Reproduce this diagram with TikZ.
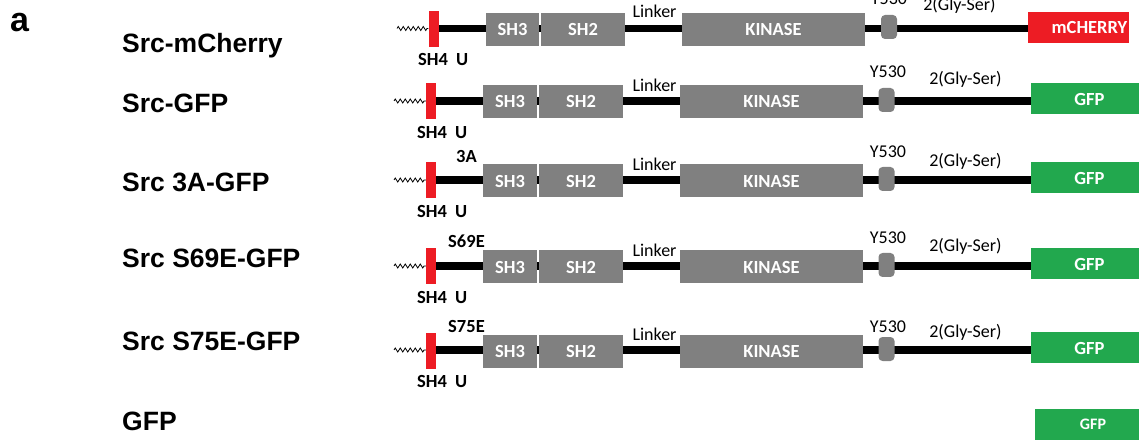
\documentclass[tikz,border=0pt]{standalone}
\usepackage{fontspec}
\setmainfont{Carlito}
\newfontfamily\arialf{Liberation Sans}
\usetikzlibrary{decorations.pathmorphing}
\pgfdeclarelayer{bg}
\pgfsetlayers{bg,main}
\definecolor{srcred}{RGB}{237,28,36}
\definecolor{boxgray}{RGB}{128,128,128}
\definecolor{gfpgreen}{RGB}{34,168,78}
\tikzset{
  seg/.style={fill=boxgray, draw=none, inner sep=0pt, minimum height=33pt, text=white,
    font=\bfseries\fontsize{18.5}{20}\selectfont},
  sh4bar/.style={fill=srcred, inner sep=0pt, minimum width=10pt, minimum height=36pt},
  pY/.style={fill=boxgray, rounded corners=4pt, inner sep=0pt, minimum width=16pt, minimum height=24pt},
  fpbox/.style={inner sep=0pt, minimum height=31pt},
  fplbl/.style={text=white, inner sep=0pt, font=\bfseries\fontsize{18.5}{20}\selectfont},
  backbone/.style={line width=7.5pt},
  tether/.style={line width=0.8pt, decorate, decoration={zigzag, segment length=5pt, amplitude=2pt}},
  note/.style={font=\fontsize{18}{20}\selectfont, anchor=base, inner sep=0pt},
  bnote/.style={font=\bfseries\fontsize{18.5}{20}\selectfont, anchor=base, inner sep=0pt},
  cname/.style={font=\arialf\bfseries\fontsize{26.5}{30}\selectfont, anchor=base west, inner sep=0pt},
}
\begin{document}
\begin{tikzpicture}[x=1pt, y=-1pt]
\useasboundingbox (0,0) rectangle (1139,443);

% panel letter
\node[font=\arialf\bfseries\fontsize{34}{36}\selectfont, anchor=base west, inner sep=0pt] (panel) at (10,32) {a};

% construct names
\node[cname] (n1) at (122,53) {Src-mCherry};
\node[cname] (n2) at (122,113) {Src-GFP};
\node[cname] (n3) at (122,192) {Src 3A-GFP};
\node[cname] (n4) at (122,268) {Src S69E-GFP};
\node[cname] (n5) at (122,350) {Src S75E-GFP};
\node[cname] (n6) at (122,430) {GFP};

% ---- row a : Src-mCherry
\coordinate (La) at (0,28.5);
\coordinate (ta) at (397,28.5);
\node[sh4bar] (reda) at (433.5,29) {};
\node[seg, minimum width=53pt] (sh3a) at (512.5,29.5) {SH3};
\node[seg, minimum width=84pt] (sh2a) at (583,29.5) {SH2};
\node[seg, minimum width=183pt] (kina) at (773.5,30) {KINASE};
\node[pY] (ya) at (889,27) {};
\node[fpbox, fill=srcred, minimum width=101pt] (fpa) at (1078.5,27.5) {};
\node[fplbl] (fpla) at (1089.5,28) {mCHERRY};
\node[note] (lka) at (654.5,18) {Linker};
\node[note] (ytxa) at (889,5) {Y530};
\node[note] (gsa) at (959.5,10.5) {2(Gly-Ser)};
\node[bnote, anchor=base west] (sa) at (418,66) {SH4\hspace{8pt}U};
\begin{pgfonlayer}{bg}
  \draw[backbone] (reda.center |- La) -- (fpa.west |- La);
  \draw[tether] (ta) -- (reda.west |- ta);
\end{pgfonlayer}

% ---- rows b-e : GFP fusions
\foreach \n/\L/\ya/\gs in {b/101/23/16, c/180/22/13, d/266/22/14, e/350/18/13}{
  \coordinate (L\n) at (0,\L);
  \coordinate (t\n) at (394,\L);
  \node[sh4bar] (red\n) at (431,\L+0.5) {};
  \node[seg, minimum width=54pt] (sh3\n) at (510,\L+1) {SH3};
  \node[seg, minimum width=84pt] (sh2\n) at (581,\L+1) {SH2};
  \node[seg, minimum width=183pt] (kin\n) at (771.5,\L+1) {KINASE};
  \node[pY] (y\n) at (886.5,\L-1) {};
  \node[fpbox, fill=gfpgreen, minimum width=108pt] (fp\n) at (1085,\L-2.5) {};
  \node[fplbl] (fpl\n) at (1089.5,\L-1.5) {GFP};
  \node[note] (lk\n) at (654.5,\L-9.5) {Linker};
  \node[note] (ytx\n) at (888,\L-\ya) {Y530};
  \node[note] (gs\n) at (965.5,\L-\gs) {2(Gly-Ser)};
  \node[bnote, anchor=base west] (s\n) at (417,\L+37.5) {SH4\hspace{8pt}U};
  \begin{pgfonlayer}{bg}
    \draw[backbone] (red\n.center |- L\n) -- (fp\n.west |- L\n);
    \draw[tether] (t\n) -- (red\n.west |- t\n);
  \end{pgfonlayer}
}

% mutation labels
\node[bnote] (mutc) at (466.5,163) {3A};
\node[bnote] (mutd) at (466.5,248) {S69E};
\node[bnote] (mute) at (466.5,332) {S75E};

% ---- GFP alone
\node[fpbox, fill=gfpgreen, minimum width=104pt] (fpf) at (1087,424) {};
\node[fplbl, font=\bfseries\fontsize{16}{18}\selectfont] (fplf) at (1093,424) {GFP};
\end{tikzpicture}
\end{document}
